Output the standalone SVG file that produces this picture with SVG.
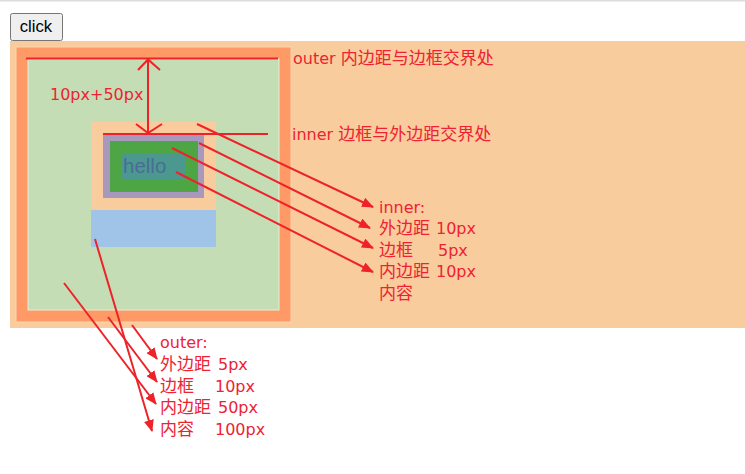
<svg xmlns="http://www.w3.org/2000/svg" width="745" height="474" viewBox="0 0 745 474">
<style>
.lbl{font-family:"DejaVu Sans","Noto Sans CJK SC",sans-serif;font-size:17px;fill:#EE2233}
.la{font-size:16px}
.ln{stroke:#EE2229;stroke-width:2;fill:none}
.ar{stroke:#EE2229;stroke-width:2;fill:none;marker-end:url(#ah)}
</style>
<defs>
<marker id="ah" markerUnits="userSpaceOnUse" markerWidth="12" markerHeight="10" refX="11" refY="5" orient="auto">
<path d="M0,0 L12,5 L0,10 Z" fill="#EE2229"/>
</marker>
</defs>
<rect width="745" height="474" fill="#FFFFFF"/>
<rect x="0" y="0" width="745" height="1.5" fill="#DDDDDD"/>
<g id="button">
<rect x="10.5" y="13.5" width="52" height="27" rx="2" fill="#EFEFEF" stroke="#767676"/>
<text x="36" y="32" text-anchor="middle" style="font-family:'Liberation Sans',sans-serif;font-size:16.7px;fill:#000">click</text>
</g>
<g id="outer">
<rect x="10" y="41" width="735" height="287" fill="#F9CC9D"/>
<rect x="16" y="47" width="275" height="275" fill="#FF9966" stroke="#FBD4B0" stroke-width="1"/>
<rect x="28" y="59" width="251" height="251" fill="#C5DDB5" stroke="#E4EED8" stroke-width="1"/>
</g>
<g id="inner">
<rect x="91" y="122" width="125" height="88" fill="#F9CC9D"/>
<rect x="91" y="210" width="125" height="37" fill="#A0C4E8"/>
<rect x="103" y="134" width="101" height="64" fill="#A898BE"/>
<rect x="110" y="141" width="88" height="51" fill="#4EA543"/>
<rect x="122" y="153" width="63" height="26" fill="#4B998E"/>
<text x="123" y="173" style="font-family:'Liberation Sans',sans-serif;font-size:20.5px;fill:#4A6B98">hello</text>
</g>
<g id="connectors">
<line class="ln" x1="26" y1="58.5" x2="278" y2="58.5"/>
<line class="ln" x1="103" y1="134" x2="268" y2="134"/>
<line class="ln" x1="148" y1="59" x2="148" y2="133"/>
<polyline class="ln" points="138,70 148,59.5 160,70"/>
<polyline class="ln" points="136,124 148,133 162,124"/>
<line class="ar" x1="197" y1="124" x2="373" y2="207"/>
<line class="ar" x1="199" y1="143" x2="370" y2="228"/>
<line class="ar" x1="172" y1="148" x2="373" y2="248"/>
<line class="ar" x1="176" y1="172" x2="373" y2="272"/>
<line class="ar" x1="132" y1="325" x2="157" y2="359"/>
<line class="ar" x1="108" y1="317" x2="157" y2="382"/>
<line class="ar" x1="64" y1="283" x2="156" y2="404"/>
<line class="ar" x1="95" y1="239" x2="152" y2="431"/>
</g>
<g id="labels">
<text class="lbl la" x="50" y="100">10px+50px</text>
<text class="lbl" x="293" y="64"><tspan class="la">outer </tspan>内边距与边框交界处</text>
<text class="lbl" x="292" y="140"><tspan class="la">inner </tspan>边框与外边距交界处</text>
</g>
<g id="inner-legend">
<text class="lbl la" x="379" y="213">inner:</text>
<text class="lbl" x="379" y="234" xml:space="preserve">外边距 <tspan class="la" x="436">10px</tspan></text>
<text class="lbl" x="379" y="256" xml:space="preserve">边框     <tspan class="la" x="438">5px</tspan></text>
<text class="lbl" x="379" y="277" xml:space="preserve">内边距 <tspan class="la" x="436">10px</tspan></text>
<text class="lbl" x="379" y="299">内容</text>
</g>
<g id="outer-legend">
<text class="lbl la" x="160" y="348">outer:</text>
<text class="lbl" x="160" y="370" xml:space="preserve">外边距 <tspan class="la" x="218">5px</tspan></text>
<text class="lbl" x="160" y="392" xml:space="preserve">边框    <tspan class="la" x="215">10px</tspan></text>
<text class="lbl" x="160" y="413" xml:space="preserve">内边距 <tspan class="la" x="218">50px</tspan></text>
<text class="lbl" x="160" y="435" xml:space="preserve">内容    <tspan class="la" x="215">100px</tspan></text>
</g>
</svg>
